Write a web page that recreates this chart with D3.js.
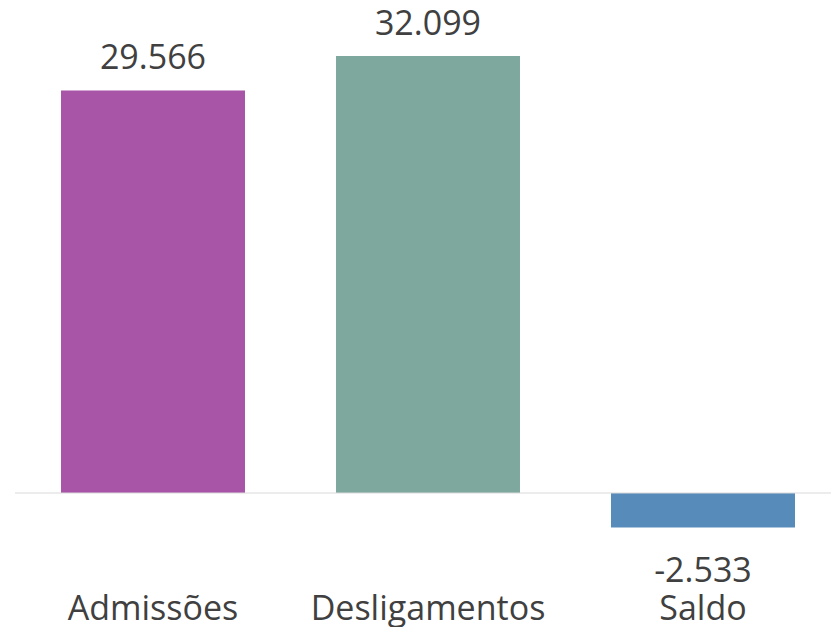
<!DOCTYPE html>
<html>
<head>
<meta charset="utf-8">
<script src="https://cdn.jsdelivr.net/npm/d3@7"></script>
<style>
  body { margin: 0; background: #fff; }
  text { font-family: "Open Sans", sans-serif; fill: #404040; }
</style>
</head>
<body>
<svg class="chart" width="831" height="627"></svg>
<script>
var categories = ["Admissões", "Desligamentos", "Saldo"];
var values = [29566, 32099, -2533];
var colors = ["#a855a8", "#7ea89e", "#568bba"];

var width = 831, height = 627;
var svg = d3.select(".chart");

// band layout tuned to the reference
var x = d3.scaleBand()
  .domain(categories)
  .range([15.5, 840.5])
  .paddingInner(0.331)
  .paddingOuter(0.1655);

var y = d3.scaleLinear()
  .domain([0, 32099])
  .range([493, 56]);

var fmt = d3.formatLocale({ decimal: ",", thousands: ".", grouping: [3], currency: ["R$", ""] }).format(",d");

svg.selectAll(".bar")
  .data(values)
  .enter().append("rect")
  .attr("class", "bar")
  .attr("x", (d, i) => x(categories[i]))
  .attr("width", x.bandwidth())
  .attr("y", d => y(Math.max(0, d)))
  .attr("height", d => Math.abs(y(d) - y(0)))
  .attr("fill", (d, i) => colors[i]);

// zero line
svg.append("line")
  .attr("x1", 15).attr("x2", width)
  .attr("y1", y(0)).attr("y2", y(0))
  .attr("stroke", "#d9d9d9")
  .attr("stroke-width", 1);

// value labels
svg.selectAll(".val")
  .data(values)
  .enter().append("text")
  .attr("class", "val")
  .attr("text-anchor", "middle")
  .attr("x", (d, i) => x(categories[i]) + x.bandwidth() / 2)
  .attr("y", d => d >= 0 ? y(d) - 21 : y(d) + 55)
  .style("font-size", "34px")
  .text(d => fmt(d).replace("−", "-"));

// category labels
svg.selectAll(".cat")
  .data(categories)
  .enter().append("text")
  .attr("class", "cat")
  .attr("text-anchor", "middle")
  .attr("x", d => x(d) + x.bandwidth() / 2)
  .attr("y", 620)
  .style("font-size", "34px")
  .text(d => d);
</script>
</body>
</html>
